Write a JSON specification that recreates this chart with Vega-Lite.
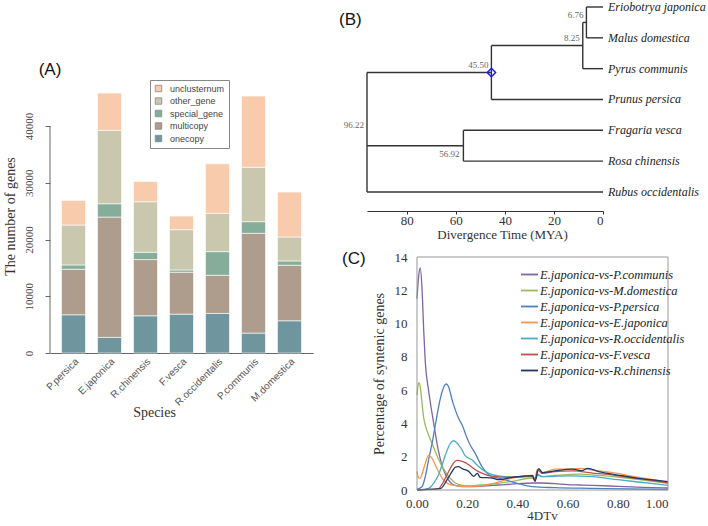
{
  "$schema": "https://vega.github.io/schema/vega-lite/v6.json",
  "padding": {"left": 3, "top": 0, "right": 0, "bottom": 0},
  "background": "white",
  "spacing": 26,
  "config": {"view": {"stroke": null}, "font": "Liberation Serif"},
  "resolve": {"scale": {"color": "independent"}, "legend": {"color": "independent"}},
  "hconcat": [
    {
      "width": 263,
      "height": 353,
      "resolve": {"scale": {"x": "independent"}},
      "layer": [
        {
          "data": {"values": [
            {"species": "P.persica", "category": "onecopy", "count": 6735},
            {"species": "P.persica", "category": "multicopy", "count": 8025},
            {"species": "P.persica", "category": "special_gene", "count": 760},
            {"species": "P.persica", "category": "other_gene", "count": 7030},
            {"species": "P.persica", "category": "unclusternum", "count": 4330},
            {"species": "E.japonica", "category": "onecopy", "count": 2750},
            {"species": "E.japonica", "category": "multicopy", "count": 21205},
            {"species": "E.japonica", "category": "special_gene", "count": 2345},
            {"species": "E.japonica", "category": "other_gene", "count": 12940},
            {"species": "E.japonica", "category": "unclusternum", "count": 6560},
            {"species": "R.chinensis", "category": "onecopy", "count": 6560},
            {"species": "R.chinensis", "category": "multicopy", "count": 9900},
            {"species": "R.chinensis", "category": "special_gene", "count": 1290},
            {"species": "R.chinensis", "category": "other_gene", "count": 8900},
            {"species": "R.chinensis", "category": "unclusternum", "count": 3570},
            {"species": "F.vesca", "category": "onecopy", "count": 6850},
            {"species": "F.vesca", "category": "multicopy", "count": 7380},
            {"species": "F.vesca", "category": "special_gene", "count": 410},
            {"species": "F.vesca", "category": "other_gene", "count": 7090},
            {"species": "F.vesca", "category": "unclusternum", "count": 2400},
            {"species": "R.occidentalis", "category": "onecopy", "count": 6970},
            {"species": "R.occidentalis", "category": "multicopy", "count": 6730},
            {"species": "R.occidentalis", "category": "special_gene", "count": 4160},
            {"species": "R.occidentalis", "category": "other_gene", "count": 6740},
            {"species": "R.occidentalis", "category": "unclusternum", "count": 8730},
            {"species": "P.communis", "category": "onecopy", "count": 3510},
            {"species": "P.communis", "category": "multicopy", "count": 17580},
            {"species": "P.communis", "category": "special_gene", "count": 2050},
            {"species": "P.communis", "category": "other_gene", "count": 9600},
            {"species": "P.communis", "category": "unclusternum", "count": 12530},
            {"species": "M.domestica", "category": "onecopy", "count": 5680},
            {"species": "M.domestica", "category": "multicopy", "count": 9780},
            {"species": "M.domestica", "category": "special_gene", "count": 760},
            {"species": "M.domestica", "category": "other_gene", "count": 4220},
            {"species": "M.domestica", "category": "unclusternum", "count": 7910}
          ]},
          "transform": [
            {
              "lookup": "category",
              "from": {
                "data": {"values": [
                  {"category": "onecopy", "rank": 1},
                  {"category": "multicopy", "rank": 2},
                  {"category": "special_gene", "rank": 3},
                  {"category": "other_gene", "rank": 4},
                  {"category": "unclusternum", "rank": 5}
                ]},
                "key": "category",
                "fields": ["rank"]
              }
            }
          ],
          "mark": {"type": "bar", "stroke": "white", "strokeWidth": 0.6},
          "encoding": {
            "x": {
              "field": "species", "type": "nominal",
              "sort": ["P.persica", "E.japonica", "R.chinensis", "F.vesca", "R.occidentalis", "P.communis", "M.domestica"],
              "scale": {"paddingInner": 0.333, "paddingOuter": 0.32},
              "axis": {
                "title": "Species", "labelAngle": -45, "labelFont": "Liberation Sans", "labelFontSize": 10,
                "labelColor": "#555", "ticks": false, "labelPadding": 3, "domainColor": "#666",
                "titleFont": "Liberation Serif", "titleFontSize": 14, "titleFontWeight": "normal",
                "titleColor": "#333", "titleX": 104, "titleY": 52, "titleBaseline": "top"
              }
            },
            "y": {
              "field": "count", "type": "quantitative", "stack": "zero",
              "scale": {"domain": [0, 62203], "nice": false},
              "axis": {
                "values": [0, 10000, 20000, 30000, 40000], "format": "d", "domain": false, "grid": false,
                "labelAngle": -90, "labelFont": "Liberation Serif", "labelFontSize": 11, "labelColor": "#444",
                "tickSize": 5, "tickColor": "#666", "labelPadding": 11,
                "title": "The number of genes", "titleFont": "Liberation Serif", "titleFontSize": 14,
                "titleFontWeight": "normal", "titleColor": "#333", "titleX": -33, "titleY": 216
              }
            },
            "color": {
              "field": "category", "type": "nominal",
              "scale": {
                "domain": ["unclusternum", "other_gene", "special_gene", "multicopy", "onecopy"],
                "range": ["#f8cbad", "#c9c8ae", "#86ad99", "#ae9d8c", "#6f959e"]
              },
              "legend": {
                "orient": "none", "legendX": 100, "legendY": 80, "title": null,
                "symbolType": "square", "symbolSize": 42, "symbolStrokeColor": "#888", "symbolStrokeWidth": 0.8,
                "symbolOpacity": 1,
                "labelFont": "Liberation Sans", "labelFontSize": 9, "labelColor": "#444",
                "strokeColor": "#888", "padding": 4, "rowPadding": 1.5, "labelOffset": 7, "fillColor": "white"
              }
            },
            "order": {"field": "rank", "type": "quantitative", "sort": "ascending"}
          }
        },
        {
          "data": {"values": [{}]},
          "mark": {"type": "rule", "color": "#666"},
          "encoding": {
            "x": {"datum": 0, "type": "quantitative", "scale": {"domain": [0, 1]}, "axis": null},
            "y": {"datum": 0, "type": "quantitative"},
            "y2": {"datum": 40000}
          }
        },
        {
          "data": {"values": [{"label": "(A)"}]},
          "mark": {"type": "text", "font": "Liberation Sans", "fontSize": 17, "color": "#111", "align": "center", "baseline": "middle"},
          "encoding": {
            "x": {"datum": 0, "type": "quantitative", "scale": {"domain": [0, 1]}, "axis": null},
            "y": {"datum": 49870, "type": "quantitative"},
            "text": {"field": "label"}
          }
        }
      ]
    },
    {
      "resolve": {"scale": {"color": "independent"}, "legend": {"color": "independent"}},
      "vconcat": [
        {
          "width": 236,
          "height": 211,
          "layer": [
            {
              "data": {"values": [
                {"x1": 6.76, "x2": 0, "y1": 0, "y2": 0},
                {"x1": 6.76, "x2": 0, "y1": 1, "y2": 1},
                {"x1": 8.25, "x2": 6.76, "y1": 0.5, "y2": 0.5},
                {"x1": 8.25, "x2": 0, "y1": 2, "y2": 2},
                {"x1": 45.5, "x2": 8.25, "y1": 1.25, "y2": 1.25},
                {"x1": 45.5, "x2": 0, "y1": 3, "y2": 3},
                {"x1": 96.22, "x2": 45.5, "y1": 2.125, "y2": 2.125},
                {"x1": 56.92, "x2": 0, "y1": 4, "y2": 4},
                {"x1": 56.92, "x2": 0, "y1": 5, "y2": 5},
                {"x1": 96.22, "x2": 56.92, "y1": 4.5, "y2": 4.5},
                {"x1": 96.22, "x2": 0, "y1": 6, "y2": 6},
                {"x1": 6.76, "x2": 6.76, "y1": 0, "y2": 1},
                {"x1": 8.25, "x2": 8.25, "y1": 0.5, "y2": 2},
                {"x1": 45.5, "x2": 45.5, "y1": 1.25, "y2": 3},
                {"x1": 56.92, "x2": 56.92, "y1": 4, "y2": 5},
                {"x1": 96.22, "x2": 96.22, "y1": 2.125, "y2": 6}
              ]},
              "mark": {"type": "rule", "color": "#333", "strokeWidth": 1.4},
              "encoding": {
                "x": {
                  "field": "x1", "type": "quantitative",
                  "scale": {"domain": [0, 96.22], "reverse": true, "nice": false, "zero": false},
                  "axis": {
                    "values": [80, 60, 40, 20, 0], "title": "Divergence Time (MYA)", "grid": false,
                    "labelFont": "Liberation Serif", "labelFontSize": 13, "labelColor": "#333",
                    "domainColor": "#333", "tickColor": "#333", "tickSize": 3, "labelPadding": 0,
                    "titleFont": "Liberation Serif", "titleFontSize": 13, "titleFontWeight": "normal",
                    "titleColor": "#333", "titleX": 135, "titlePadding": 1
                  }
                },
                "x2": {"field": "x2"},
                "y": {
                  "field": "y1", "type": "quantitative",
                  "scale": {"domain": [-0.227, 6.617], "reverse": true, "nice": false, "zero": false},
                  "axis": null
                },
                "y2": {"field": "y2"}
              }
            },
            {
              "data": {"values": [
                {"name": "Eriobotrya japonica", "age": 0, "y": 0},
                {"name": "Malus domestica", "age": 0, "y": 1},
                {"name": "Pyrus communis", "age": 0, "y": 2},
                {"name": "Prunus persica", "age": 0, "y": 3},
                {"name": "Fragaria vesca", "age": 0, "y": 4},
                {"name": "Rosa chinensis", "age": 0, "y": 5},
                {"name": "Rubus occidentalis", "age": 0, "y": 6}
              ]},
              "mark": {"type": "text", "align": "left", "baseline": "middle", "dx": 5, "font": "Liberation Serif", "fontStyle": "italic", "fontSize": 12, "color": "#222"},
              "encoding": {
                "x": {"field": "age", "type": "quantitative"},
                "y": {"field": "y", "type": "quantitative"},
                "text": {"field": "name"}
              }
            },
            {
              "data": {"values": [
                {"label": "6.76", "age": 6.76, "y": 0.5},
                {"label": "8.25", "age": 8.25, "y": 1.25},
                {"label": "45.50", "age": 45.5, "y": 2.125},
                {"label": "56.92", "age": 56.92, "y": 4.5},
                {"label": "96.22", "age": 96.22, "y": 4.06}
              ]},
              "transform": [{"filter": "datum.label != '56.92'"}],
              "mark": {"type": "text", "align": "right", "baseline": "middle", "dx": -3, "dy": -7.5, "font": "Liberation Serif", "fontSize": 9, "color": "#666"},
              "encoding": {
                "x": {"field": "age", "type": "quantitative"},
                "y": {"field": "y", "type": "quantitative"},
                "text": {"field": "label"}
              }
            },
            {
              "data": {"values": [
                {"label": "56.92", "age": 56.92, "y": 4.5}
              ]},
              "mark": {"type": "text", "align": "right", "baseline": "middle", "dx": -4, "dy": 8.5, "font": "Liberation Serif", "fontSize": 9, "color": "#666"},
              "encoding": {
                "x": {"field": "age", "type": "quantitative"},
                "y": {"field": "y", "type": "quantitative"},
                "text": {"field": "label"}
              }
            },
            {
              "data": {"values": [{"age": 45.5, "y": 2.125}]},
              "mark": {"type": "point", "shape": "diamond", "filled": false, "stroke": "#1a1aff", "strokeWidth": 1.5, "size": 70, "opacity": 1},
              "encoding": {
                "x": {"field": "age", "type": "quantitative"},
                "y": {"field": "y", "type": "quantitative"}
              }
            },
            {
              "data": {"values": [{"label": "(B)", "age": 96.22, "y": 0.42}]},
              "mark": {"type": "text", "align": "left", "baseline": "middle", "dx": -28, "font": "Liberation Sans", "fontSize": 17, "color": "#111"},
              "encoding": {
                "x": {"field": "age", "type": "quantitative"},
                "y": {"field": "y", "type": "quantitative"},
                "text": {"field": "label"}
              }
            }
          ]
        },
        {
          "width": 301,
          "height": 233,
          "layer": [
            {
              "data": {"values": [
                {"s": "E.japonica-vs-P.communis", "x": 0, "y": 11.5},
                {"s": "E.japonica-vs-P.communis", "x": 0.007, "y": 12.9},
                {"s": "E.japonica-vs-P.communis", "x": 0.013, "y": 13.35},
                {"s": "E.japonica-vs-P.communis", "x": 0.02, "y": 12.1},
                {"s": "E.japonica-vs-P.communis", "x": 0.027, "y": 9.5},
                {"s": "E.japonica-vs-P.communis", "x": 0.033, "y": 7.7},
                {"s": "E.japonica-vs-P.communis", "x": 0.046, "y": 6.0},
                {"s": "E.japonica-vs-P.communis", "x": 0.06, "y": 4.6},
                {"s": "E.japonica-vs-P.communis", "x": 0.073, "y": 3.4},
                {"s": "E.japonica-vs-P.communis", "x": 0.086, "y": 2.3},
                {"s": "E.japonica-vs-P.communis", "x": 0.1, "y": 1.45},
                {"s": "E.japonica-vs-P.communis", "x": 0.113, "y": 0.95},
                {"s": "E.japonica-vs-P.communis", "x": 0.126, "y": 0.6},
                {"s": "E.japonica-vs-P.communis", "x": 0.14, "y": 0.36},
                {"s": "E.japonica-vs-P.communis", "x": 0.16, "y": 0.25},
                {"s": "E.japonica-vs-P.communis", "x": 0.2, "y": 0.2},
                {"s": "E.japonica-vs-P.communis", "x": 0.25, "y": 0.22},
                {"s": "E.japonica-vs-P.communis", "x": 0.3, "y": 0.28},
                {"s": "E.japonica-vs-P.communis", "x": 0.35, "y": 0.32},
                {"s": "E.japonica-vs-P.communis", "x": 0.4, "y": 0.38},
                {"s": "E.japonica-vs-P.communis", "x": 0.46, "y": 0.42},
                {"s": "E.japonica-vs-P.communis", "x": 0.5, "y": 0.42},
                {"s": "E.japonica-vs-P.communis", "x": 0.55, "y": 0.38},
                {"s": "E.japonica-vs-P.communis", "x": 0.6, "y": 0.32},
                {"s": "E.japonica-vs-P.communis", "x": 0.65, "y": 0.3},
                {"s": "E.japonica-vs-P.communis", "x": 0.7, "y": 0.28},
                {"s": "E.japonica-vs-P.communis", "x": 0.8, "y": 0.22},
                {"s": "E.japonica-vs-P.communis", "x": 0.9, "y": 0.16},
                {"s": "E.japonica-vs-P.communis", "x": 1.0, "y": 0.12},
                {"s": "E.japonica-vs-M.domestica", "x": 0, "y": 5.7},
                {"s": "E.japonica-vs-M.domestica", "x": 0.007, "y": 6.45},
                {"s": "E.japonica-vs-M.domestica", "x": 0.013, "y": 6.2},
                {"s": "E.japonica-vs-M.domestica", "x": 0.02, "y": 5.2},
                {"s": "E.japonica-vs-M.domestica", "x": 0.027, "y": 4.3},
                {"s": "E.japonica-vs-M.domestica", "x": 0.033, "y": 3.9},
                {"s": "E.japonica-vs-M.domestica", "x": 0.046, "y": 3.3},
                {"s": "E.japonica-vs-M.domestica", "x": 0.06, "y": 2.8},
                {"s": "E.japonica-vs-M.domestica", "x": 0.073, "y": 2.3},
                {"s": "E.japonica-vs-M.domestica", "x": 0.086, "y": 1.85},
                {"s": "E.japonica-vs-M.domestica", "x": 0.1, "y": 1.42},
                {"s": "E.japonica-vs-M.domestica", "x": 0.113, "y": 1.1},
                {"s": "E.japonica-vs-M.domestica", "x": 0.126, "y": 0.82},
                {"s": "E.japonica-vs-M.domestica", "x": 0.14, "y": 0.6},
                {"s": "E.japonica-vs-M.domestica", "x": 0.153, "y": 0.42},
                {"s": "E.japonica-vs-M.domestica", "x": 0.18, "y": 0.28},
                {"s": "E.japonica-vs-M.domestica", "x": 0.2, "y": 0.25},
                {"s": "E.japonica-vs-M.domestica", "x": 0.25, "y": 0.3},
                {"s": "E.japonica-vs-M.domestica", "x": 0.3, "y": 0.36},
                {"s": "E.japonica-vs-M.domestica", "x": 0.38, "y": 0.52},
                {"s": "E.japonica-vs-M.domestica", "x": 0.46, "y": 0.72},
                {"s": "E.japonica-vs-M.domestica", "x": 0.47, "y": 0.6},
                {"s": "E.japonica-vs-M.domestica", "x": 0.48, "y": 0.95},
                {"s": "E.japonica-vs-M.domestica", "x": 0.5, "y": 0.8},
                {"s": "E.japonica-vs-M.domestica", "x": 0.55, "y": 0.88},
                {"s": "E.japonica-vs-M.domestica", "x": 0.6, "y": 0.92},
                {"s": "E.japonica-vs-M.domestica", "x": 0.65, "y": 0.95},
                {"s": "E.japonica-vs-M.domestica", "x": 0.7, "y": 0.9},
                {"s": "E.japonica-vs-M.domestica", "x": 0.75, "y": 0.85},
                {"s": "E.japonica-vs-M.domestica", "x": 0.8, "y": 0.78},
                {"s": "E.japonica-vs-M.domestica", "x": 0.9, "y": 0.6},
                {"s": "E.japonica-vs-M.domestica", "x": 1.0, "y": 0.4},
                {"s": "E.japonica-vs-P.persica", "x": 0, "y": 0.05},
                {"s": "E.japonica-vs-P.persica", "x": 0.02, "y": 0.2},
                {"s": "E.japonica-vs-P.persica", "x": 0.033, "y": 0.8},
                {"s": "E.japonica-vs-P.persica", "x": 0.046, "y": 1.8},
                {"s": "E.japonica-vs-P.persica", "x": 0.06, "y": 2.8},
                {"s": "E.japonica-vs-P.persica", "x": 0.073, "y": 3.9},
                {"s": "E.japonica-vs-P.persica", "x": 0.086, "y": 5.0},
                {"s": "E.japonica-vs-P.persica", "x": 0.1, "y": 5.9},
                {"s": "E.japonica-vs-P.persica", "x": 0.116, "y": 6.37},
                {"s": "E.japonica-vs-P.persica", "x": 0.126, "y": 6.2},
                {"s": "E.japonica-vs-P.persica", "x": 0.14, "y": 5.4},
                {"s": "E.japonica-vs-P.persica", "x": 0.153, "y": 4.8},
                {"s": "E.japonica-vs-P.persica", "x": 0.166, "y": 4.3},
                {"s": "E.japonica-vs-P.persica", "x": 0.18, "y": 3.9},
                {"s": "E.japonica-vs-P.persica", "x": 0.2, "y": 3.1},
                {"s": "E.japonica-vs-P.persica", "x": 0.212, "y": 2.7},
                {"s": "E.japonica-vs-P.persica", "x": 0.232, "y": 2.2},
                {"s": "E.japonica-vs-P.persica", "x": 0.245, "y": 1.8},
                {"s": "E.japonica-vs-P.persica", "x": 0.259, "y": 1.4},
                {"s": "E.japonica-vs-P.persica", "x": 0.286, "y": 0.92},
                {"s": "E.japonica-vs-P.persica", "x": 0.325, "y": 0.72},
                {"s": "E.japonica-vs-P.persica", "x": 0.35, "y": 0.62},
                {"s": "E.japonica-vs-P.persica", "x": 0.4, "y": 0.4},
                {"s": "E.japonica-vs-P.persica", "x": 0.46, "y": 0.2},
                {"s": "E.japonica-vs-P.persica", "x": 0.55, "y": 0.14},
                {"s": "E.japonica-vs-P.persica", "x": 0.7, "y": 0.1},
                {"s": "E.japonica-vs-P.persica", "x": 0.85, "y": 0.06},
                {"s": "E.japonica-vs-P.persica", "x": 1.0, "y": 0.03},
                {"s": "E.japonica-vs-E.japonica", "x": 0, "y": 1.12},
                {"s": "E.japonica-vs-E.japonica", "x": 0.007, "y": 0.72},
                {"s": "E.japonica-vs-E.japonica", "x": 0.013, "y": 0.7},
                {"s": "E.japonica-vs-E.japonica", "x": 0.02, "y": 0.95},
                {"s": "E.japonica-vs-E.japonica", "x": 0.033, "y": 1.6},
                {"s": "E.japonica-vs-E.japonica", "x": 0.046, "y": 2.08},
                {"s": "E.japonica-vs-E.japonica", "x": 0.06, "y": 1.9},
                {"s": "E.japonica-vs-E.japonica", "x": 0.073, "y": 1.5},
                {"s": "E.japonica-vs-E.japonica", "x": 0.086, "y": 1.1},
                {"s": "E.japonica-vs-E.japonica", "x": 0.1, "y": 0.72},
                {"s": "E.japonica-vs-E.japonica", "x": 0.113, "y": 0.5},
                {"s": "E.japonica-vs-E.japonica", "x": 0.126, "y": 0.36},
                {"s": "E.japonica-vs-E.japonica", "x": 0.15, "y": 0.28},
                {"s": "E.japonica-vs-E.japonica", "x": 0.18, "y": 0.22},
                {"s": "E.japonica-vs-E.japonica", "x": 0.25, "y": 0.24},
                {"s": "E.japonica-vs-E.japonica", "x": 0.31, "y": 0.42},
                {"s": "E.japonica-vs-E.japonica", "x": 0.38, "y": 0.72},
                {"s": "E.japonica-vs-E.japonica", "x": 0.46, "y": 0.88},
                {"s": "E.japonica-vs-E.japonica", "x": 0.47, "y": 0.65},
                {"s": "E.japonica-vs-E.japonica", "x": 0.48, "y": 1.25},
                {"s": "E.japonica-vs-E.japonica", "x": 0.5, "y": 1.05},
                {"s": "E.japonica-vs-E.japonica", "x": 0.55, "y": 1.25},
                {"s": "E.japonica-vs-E.japonica", "x": 0.6, "y": 1.25},
                {"s": "E.japonica-vs-E.japonica", "x": 0.65, "y": 1.3},
                {"s": "E.japonica-vs-E.japonica", "x": 0.7, "y": 1.2},
                {"s": "E.japonica-vs-E.japonica", "x": 0.75, "y": 1.1},
                {"s": "E.japonica-vs-E.japonica", "x": 0.8, "y": 1.0},
                {"s": "E.japonica-vs-E.japonica", "x": 0.85, "y": 0.85},
                {"s": "E.japonica-vs-E.japonica", "x": 0.9, "y": 0.72},
                {"s": "E.japonica-vs-E.japonica", "x": 0.95, "y": 0.6},
                {"s": "E.japonica-vs-E.japonica", "x": 1.0, "y": 0.45},
                {"s": "E.japonica-vs-R.occidentalis", "x": 0, "y": 0},
                {"s": "E.japonica-vs-R.occidentalis", "x": 0.046, "y": 0.1},
                {"s": "E.japonica-vs-R.occidentalis", "x": 0.066, "y": 0.4},
                {"s": "E.japonica-vs-R.occidentalis", "x": 0.086, "y": 0.92},
                {"s": "E.japonica-vs-R.occidentalis", "x": 0.1, "y": 1.5},
                {"s": "E.japonica-vs-R.occidentalis", "x": 0.113, "y": 2.1},
                {"s": "E.japonica-vs-R.occidentalis", "x": 0.133, "y": 2.8},
                {"s": "E.japonica-vs-R.occidentalis", "x": 0.146, "y": 2.96},
                {"s": "E.japonica-vs-R.occidentalis", "x": 0.166, "y": 2.7},
                {"s": "E.japonica-vs-R.occidentalis", "x": 0.18, "y": 2.4},
                {"s": "E.japonica-vs-R.occidentalis", "x": 0.19, "y": 2.1},
                {"s": "E.japonica-vs-R.occidentalis", "x": 0.22, "y": 1.8},
                {"s": "E.japonica-vs-R.occidentalis", "x": 0.246, "y": 1.4},
                {"s": "E.japonica-vs-R.occidentalis", "x": 0.286, "y": 1.0},
                {"s": "E.japonica-vs-R.occidentalis", "x": 0.34, "y": 0.82},
                {"s": "E.japonica-vs-R.occidentalis", "x": 0.4, "y": 0.78},
                {"s": "E.japonica-vs-R.occidentalis", "x": 0.46, "y": 0.8},
                {"s": "E.japonica-vs-R.occidentalis", "x": 0.47, "y": 0.6},
                {"s": "E.japonica-vs-R.occidentalis", "x": 0.48, "y": 0.9},
                {"s": "E.japonica-vs-R.occidentalis", "x": 0.5, "y": 0.8},
                {"s": "E.japonica-vs-R.occidentalis", "x": 0.6, "y": 0.85},
                {"s": "E.japonica-vs-R.occidentalis", "x": 0.7, "y": 0.8},
                {"s": "E.japonica-vs-R.occidentalis", "x": 0.8, "y": 0.62},
                {"s": "E.japonica-vs-R.occidentalis", "x": 0.9, "y": 0.45},
                {"s": "E.japonica-vs-R.occidentalis", "x": 1.0, "y": 0.28},
                {"s": "E.japonica-vs-F.vesca", "x": 0, "y": 0},
                {"s": "E.japonica-vs-F.vesca", "x": 0.086, "y": 0.08},
                {"s": "E.japonica-vs-F.vesca", "x": 0.1, "y": 0.35},
                {"s": "E.japonica-vs-F.vesca", "x": 0.113, "y": 0.72},
                {"s": "E.japonica-vs-F.vesca", "x": 0.126, "y": 1.1},
                {"s": "E.japonica-vs-F.vesca", "x": 0.14, "y": 1.5},
                {"s": "E.japonica-vs-F.vesca", "x": 0.16, "y": 1.78},
                {"s": "E.japonica-vs-F.vesca", "x": 0.18, "y": 1.72},
                {"s": "E.japonica-vs-F.vesca", "x": 0.206, "y": 1.52},
                {"s": "E.japonica-vs-F.vesca", "x": 0.232, "y": 1.22},
                {"s": "E.japonica-vs-F.vesca", "x": 0.26, "y": 1.0},
                {"s": "E.japonica-vs-F.vesca", "x": 0.3, "y": 0.82},
                {"s": "E.japonica-vs-F.vesca", "x": 0.38, "y": 0.76},
                {"s": "E.japonica-vs-F.vesca", "x": 0.46, "y": 0.86},
                {"s": "E.japonica-vs-F.vesca", "x": 0.47, "y": 0.62},
                {"s": "E.japonica-vs-F.vesca", "x": 0.48, "y": 1.2},
                {"s": "E.japonica-vs-F.vesca", "x": 0.5, "y": 1.0},
                {"s": "E.japonica-vs-F.vesca", "x": 0.55, "y": 1.1},
                {"s": "E.japonica-vs-F.vesca", "x": 0.62, "y": 1.15},
                {"s": "E.japonica-vs-F.vesca", "x": 0.7, "y": 1.02},
                {"s": "E.japonica-vs-F.vesca", "x": 0.75, "y": 0.95},
                {"s": "E.japonica-vs-F.vesca", "x": 0.85, "y": 0.75},
                {"s": "E.japonica-vs-F.vesca", "x": 0.9, "y": 0.65},
                {"s": "E.japonica-vs-F.vesca", "x": 1.0, "y": 0.42},
                {"s": "E.japonica-vs-R.chinensis", "x": 0, "y": 0},
                {"s": "E.japonica-vs-R.chinensis", "x": 0.093, "y": 0.08},
                {"s": "E.japonica-vs-R.chinensis", "x": 0.12, "y": 0.62},
                {"s": "E.japonica-vs-R.chinensis", "x": 0.14, "y": 1.12},
                {"s": "E.japonica-vs-R.chinensis", "x": 0.153, "y": 1.38},
                {"s": "E.japonica-vs-R.chinensis", "x": 0.165, "y": 1.4},
                {"s": "E.japonica-vs-R.chinensis", "x": 0.18, "y": 1.28},
                {"s": "E.japonica-vs-R.chinensis", "x": 0.206, "y": 1.12},
                {"s": "E.japonica-vs-R.chinensis", "x": 0.226, "y": 0.82},
                {"s": "E.japonica-vs-R.chinensis", "x": 0.24, "y": 1.0},
                {"s": "E.japonica-vs-R.chinensis", "x": 0.252, "y": 0.76},
                {"s": "E.japonica-vs-R.chinensis", "x": 0.3, "y": 0.72},
                {"s": "E.japonica-vs-R.chinensis", "x": 0.325, "y": 0.62},
                {"s": "E.japonica-vs-R.chinensis", "x": 0.38, "y": 0.76},
                {"s": "E.japonica-vs-R.chinensis", "x": 0.46, "y": 0.86},
                {"s": "E.japonica-vs-R.chinensis", "x": 0.47, "y": 0.52},
                {"s": "E.japonica-vs-R.chinensis", "x": 0.485, "y": 1.28},
                {"s": "E.japonica-vs-R.chinensis", "x": 0.5, "y": 1.05},
                {"s": "E.japonica-vs-R.chinensis", "x": 0.538, "y": 1.12},
                {"s": "E.japonica-vs-R.chinensis", "x": 0.618, "y": 1.26},
                {"s": "E.japonica-vs-R.chinensis", "x": 0.657, "y": 1.16},
                {"s": "E.japonica-vs-R.chinensis", "x": 0.68, "y": 1.3},
                {"s": "E.japonica-vs-R.chinensis", "x": 0.724, "y": 1.1},
                {"s": "E.japonica-vs-R.chinensis", "x": 0.8, "y": 0.9},
                {"s": "E.japonica-vs-R.chinensis", "x": 0.857, "y": 0.76},
                {"s": "E.japonica-vs-R.chinensis", "x": 0.93, "y": 0.62},
                {"s": "E.japonica-vs-R.chinensis", "x": 1.0, "y": 0.5}
              ]},
              "mark": {"type": "line", "strokeWidth": 1.3, "interpolate": "monotone"},
              "encoding": {
                "x": {
                  "field": "x", "type": "quantitative",
                  "scale": {"domain": [-0.1992, 1], "nice": false, "zero": false},
                  "axis": {
                    "values": [0, 0.2, 0.4, 0.6, 0.8, 1], "format": ".2f", "domain": false, "grid": false,
                    "ticks": false, "labelFont": "Liberation Serif", "labelFontSize": 13, "labelColor": "#333",
                    "labelPadding": 7, "title": "4DTv", "titleX": 175, "titleFont": "Liberation Serif",
                    "titleFontSize": 13, "titleFontWeight": "normal", "titleColor": "#333", "titlePadding": -1
                  }
                },
                "y": {
                  "field": "y", "type": "quantitative",
                  "scale": {"domain": [0, 14], "nice": false},
                  "axis": {
                    "values": [0, 2, 4, 6, 8, 10, 12, 14], "tickCount": 8, "offset": -50, "domain": false, "grid": false,
                    "ticks": false, "labelOverlap": false, "labelFont": "Liberation Serif", "labelFontSize": 13, "labelColor": "#333",
                    "labelPadding": 10, "title": "Percentage of syntenic genes", "titleFont": "Liberation Serif",
                    "titleFontSize": 14, "titleFontWeight": "normal", "titlePadding": 8, "titleColor": "#333"
                  }
                },
                "color": {
                  "field": "s", "type": "nominal",
                  "scale": {
                    "domain": ["E.japonica-vs-P.communis", "E.japonica-vs-M.domestica", "E.japonica-vs-P.persica", "E.japonica-vs-E.japonica", "E.japonica-vs-R.occidentalis", "E.japonica-vs-F.vesca", "E.japonica-vs-R.chinensis"],
                    "range": ["#8064a2", "#9bbb59", "#4f81bd", "#f79646", "#4bacc6", "#c0504d", "#1f3864"]
                  },
                  "legend": {
                    "orient": "none", "legendX": 153, "legendY": 8, "title": null, "padding": 0,
                    "symbolType": "stroke", "symbolSize": 289, "symbolStrokeWidth": 1.8,
                    "labelFont": "Liberation Serif", "labelFontStyle": "italic", "labelFontSize": 12.5,
                    "labelColor": "#222", "labelOffset": 1, "rowPadding": 0
                  }
                }
              }
            },
            {
              "data": {"values": [{}]},
              "mark": {"type": "rect", "filled": false, "stroke": "#999", "strokeWidth": 1},
              "encoding": {
                "x": {"datum": 0, "type": "quantitative"},
                "x2": {"datum": 1},
                "y": {"datum": 0, "type": "quantitative"},
                "y2": {"datum": 14}
              }
            },
            {
              "data": {"values": [{"label": "(C)"}]},
              "mark": {"type": "text", "align": "left", "baseline": "middle", "dx": -25, "font": "Liberation Sans", "fontSize": 17, "color": "#111"},
              "encoding": {
                "x": {"datum": -0.1992, "type": "quantitative"},
                "y": {"datum": 13.85, "type": "quantitative"},
                "text": {"field": "label"}
              }
            }
          ]
        }
      ],
      "spacing": 9
    }
  ]
}
